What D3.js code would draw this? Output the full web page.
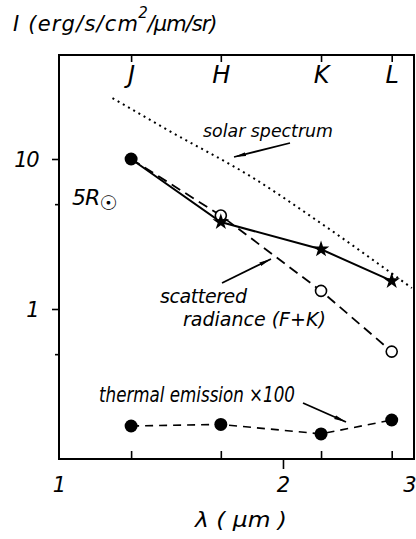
<!DOCTYPE html>
<html><head><meta charset="utf-8">
<script src="https://cdn.jsdelivr.net/npm/d3@7"></script>
<style>
html,body{margin:0;padding:0;background:#fff;}
svg text{font-family:"DejaVu Sans",sans-serif;font-style:italic;fill:#000;}
</style></head>
<body><svg id="c" width="416" height="539"></svg>
<script>
// ---- data ----
const bands = ["J", "H", "K", "L"];
const bandWavelengths = [1.25, 1.65, 2.25, 2.8];
const scatteredRadiance = [10.0, 4.2, 1.32, 0.52];      // open circles, dashed (F+K)
const totalBrightness = [10.0, 3.8, 2.5, 1.54];          // stars, solid
const thermalEmissionX100 = [0.166, 0.170, 0.147, 0.182]; // filled circles, dashed
const solarWavelengths = [1.18, 1.40, 1.83, 2.22, 2.98];
const solarSpectrum = [25.5, 15.6, 7.4, 3.9, 1.38];
const xTickValues = [1, 2, 3];
const yTickValues = [1, 10];
const yMinorTicks = [0.5, 5];

// ---- layout ----
const L = 59, R = 414, T = 55, B = 459;
const svg = d3.select("#c");
const x = d3.scaleLog().domain([1, 3]).range([L, R]);
const y = d3.scaleLog().domain([0.1, 100]).range([B, 9]);

// arrow marker
svg.append("defs").append("marker").attr("id", "ah")
  .attr("viewBox", "0 0 12 6").attr("refX", 12).attr("refY", 3)
  .attr("markerWidth", 12).attr("markerHeight", 6).attr("markerUnits", "userSpaceOnUse")
  .attr("orient", "auto")
  .append("path").attr("d", "M0,1 L12,3 L0,5 Z").attr("fill", "#000");

// frame
svg.append("rect").attr("x", L).attr("y", T).attr("width", R - L).attr("height", B - T)
  .attr("fill", "none").attr("stroke", "#000").attr("stroke-width", 2);

function styleAxis(g, fs) {
  g.select(".domain").remove();
  g.selectAll("line").attr("stroke", "#000").attr("stroke-width", 1.6);
  g.selectAll("text").attr("font-family", "DejaVu Sans").attr("font-style", "italic")
    .attr("font-size", fs).attr("fill", "#000");
}

// left axis
const gl = svg.append("g").attr("transform", `translate(${L},0)`)
  .call(d3.axisLeft(y).tickValues(yTickValues).tickSize(7).tickPadding(14).tickFormat(d3.format("d")));
styleAxis(gl, 21);
gl.selectAll("text").attr("dy", "0.36em").attr("letter-spacing", -1.5);
svg.append("g").attr("transform", `translate(${L},0)`)
  .call(d3.axisLeft(y).tickValues(yMinorTicks).tickSize(4).tickFormat(""))
  .call(g => styleAxis(g, 10));

// bottom axis (numeric)
const gb = svg.append("g").attr("transform", `translate(0,${B})`)
  .call(d3.axisBottom(x).tickValues(xTickValues).tickSize(10).tickPadding(8).tickFormat(d3.format("d")));
styleAxis(gb, 21);
gb.selectAll(".tick").filter(d => d !== 2).select("line").remove();
gb.selectAll(".tick").filter(d => d === 3).select("text").attr("text-anchor", "end").attr("x", 416 - R);

// bottom band ticks (inward)
svg.append("g").attr("transform", `translate(0,${B})`)
  .call(d3.axisTop(x).tickValues(bandWavelengths).tickSize(8).tickFormat(""))
  .call(g => styleAxis(g, 10));

// top band ticks + labels
const gt = svg.append("g").attr("transform", `translate(0,${T})`)
  .call(d3.axisBottom(x).tickValues(bandWavelengths).tickSize(7).tickPadding(4)
    .tickFormat((d, i) => bands[i]));
styleAxis(gt, 24);

// solar spectrum (dotted)
const solarPts = solarWavelengths.map((w, i) => [w, solarSpectrum[i]]);
svg.append("path").datum(solarPts)
  .attr("d", d3.line().x(d => x(d[0])).y(d => y(d[1])).curve(d3.curveMonotoneX))
  .attr("fill", "none").attr("stroke", "#000").attr("stroke-width", 2)
  .attr("stroke-dasharray", "2,4");

// scattered radiance (dashed, open circles)
const scPts = bandWavelengths.map((w, i) => [w, scatteredRadiance[i]]);
svg.append("path").datum(scPts)
  .attr("d", d3.line().x(d => x(d[0])).y(d => y(d[1])))
  .attr("fill", "none").attr("stroke", "#000").attr("stroke-width", 1.8)
  .attr("stroke-dasharray", "10,6");

// total (solid, stars)
const totPts = bandWavelengths.map((w, i) => [w, totalBrightness[i]]);
svg.append("path").datum(totPts)
  .attr("d", d3.line().x(d => x(d[0])).y(d => y(d[1])))
  .attr("fill", "none").attr("stroke", "#000").attr("stroke-width", 2);

// thermal (dashed, filled circles)
const thPts = bandWavelengths.map((w, i) => [w, thermalEmissionX100[i]]);
svg.append("path").datum(thPts)
  .attr("d", d3.line().x(d => x(d[0])).y(d => y(d[1])))
  .attr("fill", "none").attr("stroke", "#000").attr("stroke-width", 1.6)
  .attr("stroke-dasharray", "8,6");

// markers
svg.selectAll(".oc").data(scPts.slice(1)).enter().append("circle")
  .attr("cx", d => x(d[0])).attr("cy", d => y(d[1])).attr("r", 5.5)
  .attr("fill", "#fff").attr("stroke", "#000").attr("stroke-width", 1.6);
svg.selectAll(".st").data(totPts.slice(1)).enter().append("path")
  .attr("transform", d => `translate(${x(d[0])},${y(d[1])})`)
  .attr("d", d3.symbol().type(d3.symbolStar).size(85)).attr("fill", "#000");
svg.append("circle").attr("cx", x(totPts[0][0])).attr("cy", y(totPts[0][1])).attr("r", 6.5).attr("fill", "#000");
svg.selectAll(".th").data(thPts).enter().append("circle")
  .attr("cx", d => x(d[0])).attr("cy", d => y(d[1])).attr("r", 6.5).attr("fill", "#000");

// arrows
function arrow(x1, y1, x2, y2) {
  svg.append("line").attr("x1", x1).attr("y1", y1).attr("x2", x2).attr("y2", y2)
    .attr("stroke", "#000").attr("stroke-width", 1.8).attr("marker-end", "url(#ah)");
}
arrow(290, 143, 234, 157);
arrow(222, 283, 271, 259);
arrow(303, 403, 346, 422);

// texts
function txt(s, xx, yy, fs, len) {
  const t = svg.append("text").attr("x", xx).attr("y", yy).attr("font-size", fs).text(s);
  if (len) t.attr("textLength", len).attr("lengthAdjust", "spacingAndGlyphs");
  return t;
}
// y-axis title with superscript
const yt = svg.append("text").attr("x", 13).attr("y", 31).attr("font-size", 21);
yt.append("tspan").text("I (erg/s/cm").attr("letter-spacing", 1.2);
yt.append("tspan").text("2").attr("font-size", 15).attr("dy", -13).attr("dx", -1);
yt.append("tspan").text("/µm/sr)").attr("dy", 13).attr("letter-spacing", -1);

txt("solar spectrum", 203, 137, 18, 130);
const sc = svg.append("text").attr("font-size", 19);
sc.append("tspan").attr("x", 160).attr("y", 303).text("scattered").attr("letter-spacing", -0.4);
sc.append("tspan").attr("x", 183).attr("y", 326).text("radiance (F+K)");
txt("thermal emission ×100", 99, 402, 21, 196);
const sr = svg.append("text").attr("x", 72).attr("y", 205).attr("font-size", 22);
sr.append("tspan").text("5R").attr("letter-spacing", -1);
sr.append("tspan").text("☉").attr("font-size", 20).attr("font-style", "normal").attr("dy", 5);
txt("λ  ( µm )", 195, 527, 21, 92);
</script></body></html>
